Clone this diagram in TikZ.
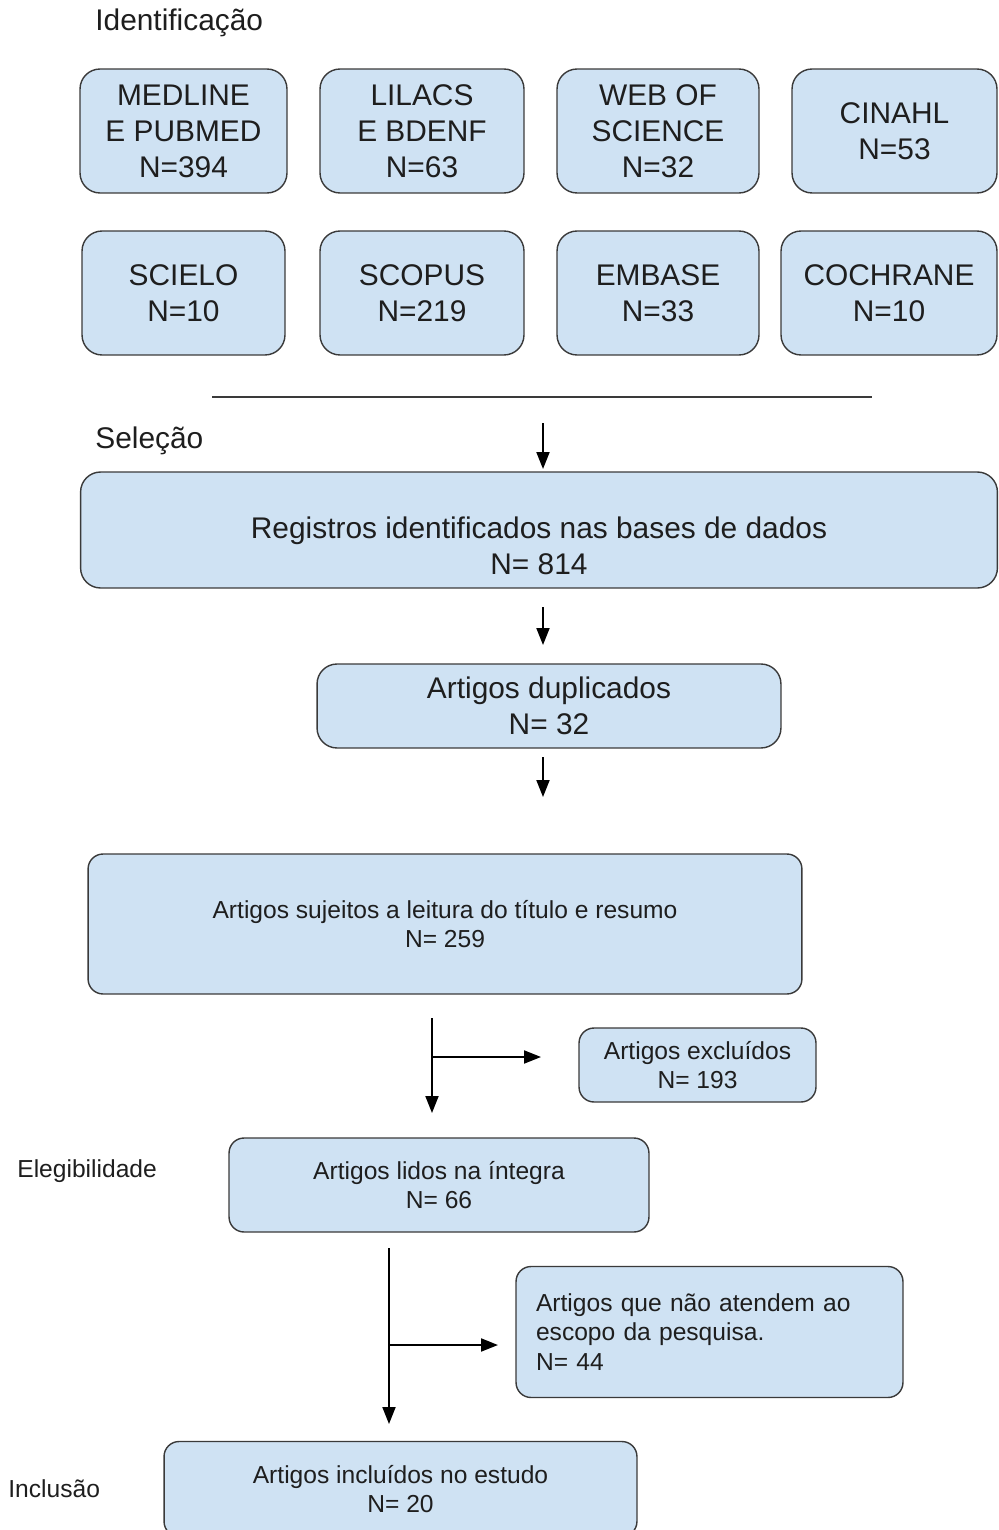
\documentclass[tikz,border=0pt]{standalone}
\usepackage{fontspec}
\setmainfont{Liberation Sans}
\usetikzlibrary{arrows.meta}
\definecolor{caixa}{HTML}{CFE2F3}
\definecolor{borda}{HTML}{3A3A3A}
\definecolor{texto}{HTML}{1E1E1E}
\tikzset{
  base/.style={draw=borda, fill=caixa, line width=0.8pt, rounded corners=0.4cm,
    text=texto, align=center, inner sep=0pt, font=\fontsize{17}{20.5}\selectfont},
  menor/.style={base, rounded corners=0.3cm, font=\fontsize{14}{17}\selectfont},
  rotulo/.style={text=texto, anchor=west, inner sep=0pt},
  seta/.style={line width=1.1pt, -{Triangle[length=0.34cm, width=0.26cm]}},
  traco/.style={line width=1.1pt}
}
\begin{document}
\begin{tikzpicture}[x=0.02cm, y=-0.02cm]
\useasboundingbox (0,0) rectangle (998,1530);
				%Etapas
				\node[rotulo, font=\fontsize{17}{20.5}\selectfont] (ident) at (95,23) {Identificação};
				\node[rotulo, font=\fontsize{17}{20.5}\selectfont] (selec) at (95,441) {Seleção};
				\node[rotulo, font=\fontsize{14}{17}\selectfont] (eleg) at (17,1171) {Elegibilidade};
				\node[rotulo, font=\fontsize{14}{17}\selectfont] (incl) at (8,1489) {Inclusão};
				%Bases de dados
				\node[base, minimum width=4.14cm, minimum height=2.48cm] (B11) at (183.5,131) {MEDLINE\\E PUBMED\\N=394};
				\node[base, minimum width=4.08cm, minimum height=2.48cm] (B12) at (422,131) {LILACS\\E BDENF\\N=63};
				\node[base, minimum width=4.04cm, minimum height=2.48cm] (B13) at (658,131) {WEB OF\\SCIENCE\\N=32};
				\node[base, minimum width=4.1cm, minimum height=2.48cm] (B14) at (894.5,131) {CINAHL\\N=53};
				\node[base, minimum width=4.06cm, minimum height=2.48cm] (B21) at (183.5,293) {SCIELO\\N=10};
				\node[base, minimum width=4.08cm, minimum height=2.48cm] (B22) at (422,293) {SCOPUS\\N=219};
				\node[base, minimum width=4.04cm, minimum height=2.48cm] (B23) at (658,293) {EMBASE\\N=33};
				\node[base, minimum width=4.32cm, minimum height=2.48cm] (B24) at (889,293) {COCHRANE\\N=10};
				%Separador
				\coordinate (L1) at (212,397);
				\coordinate (L2) at (872,397);
				\draw[line width=0.8pt, borda] (L1) -- (L2);
				%Fluxo
				\node[base, minimum width=18.34cm, minimum height=2.32cm] (reg) at (539,530) {\rule{0pt}{1.05cm}Registros identificados nas bases de dados\\N= 814};
				\node[base, minimum width=9.28cm, minimum height=1.68cm] (dup) at (549,706) {Artigos duplicados\\N= 32};
				\node[menor, minimum width=14.28cm, minimum height=2.8cm] (suj) at (445,924) {Artigos sujeitos a leitura do título e resumo\\N= 259};
				\node[menor, minimum width=4.74cm, minimum height=1.48cm] (exc) at (697.5,1065) {Artigos excluídos\\N= 193};
				\node[menor, minimum width=8.4cm, minimum height=1.88cm] (lid) at (439,1185) {Artigos lidos na íntegra\\N= 66};
				\node[menor, minimum width=7.74cm, minimum height=2.62cm, text width=6.94cm, align=left] (esc) at (709.5,1332) {Artigos que não atendem ao\\escopo da pesquisa.\\N= 44};
				\node[menor, minimum width=9.46cm, minimum height=1.9cm] (inc) at (400.5,1489) {Artigos incluídos no estudo\\N= 20};
				%Setas
				\coordinate (s1) at (543,423);
				\coordinate (s2) at (543,607);
				\coordinate (s3) at (543,757);
				\coordinate (e1) at (543,469);
				\coordinate (e2) at (543,645);
				\coordinate (e3) at (543,797);
				\draw[seta] (s1) -- (e1);
				\draw[seta] (s2) -- (e2);
				\draw[seta] (s3) -- (e3);
				\coordinate (v1) at (432,1018);
				\coordinate (f1) at (432,1113);
				\coordinate (r1) at (432,1057);
				\coordinate (t1) at (541,1057);
				\draw[seta] (v1) -- (f1);
				\draw[seta] (r1) -- (t1);
				\coordinate (v2) at (389,1248);
				\coordinate (f2) at (389,1424);
				\coordinate (r2) at (389,1345);
				\coordinate (t2) at (498,1345);
				\draw[seta] (v2) -- (f2);
				\draw[seta] (r2) -- (t2);
\end{tikzpicture}
\end{document}
